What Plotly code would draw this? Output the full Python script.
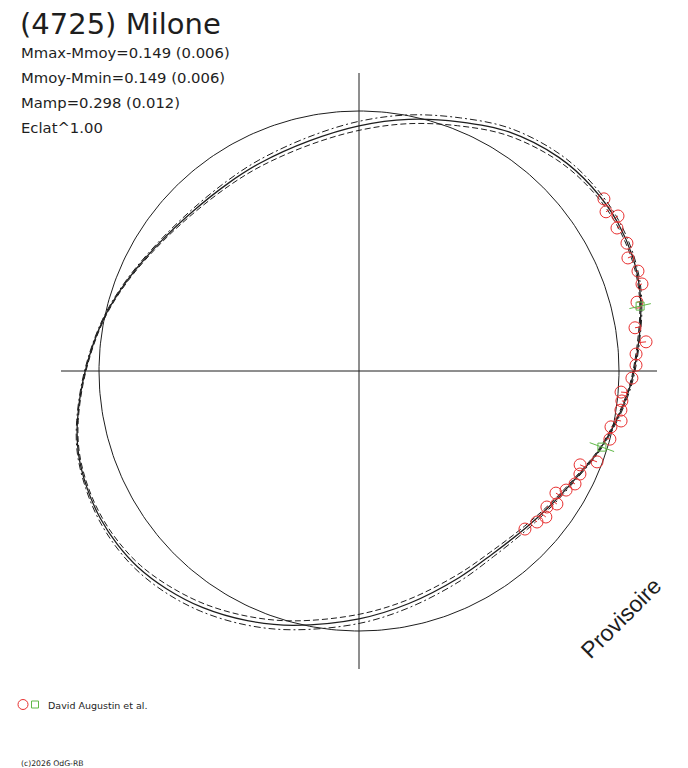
import numpy as np
import plotly.graph_objects as go

W, H = 688, 768
CX, CY, RPX = 359, 371, 260  # pole position and mean-flux radius (pixels)

title = "(4725) Milone"
stats_lines = ["Mmax-Mmoy=0.149 (0.006)", "Mmoy-Mmin=0.149 (0.006)",
               "Mamp=0.298 (0.012)", "Eclat^1.00"]
legend_label = "David Augustin et al."
copyright_text = "(c)2026 OdG-RB"
watermark = "Provisoire"

# model lightcurve: rotational phase (deg, CCW from +x) and magnitude relative to mean
model_phase_deg = [0.0, 12.8, 20.6, 29.7, 38.3, 46.9, 57.9, 68.1, 78.9, 90.0,
                   102.2, 115.4, 125.0, 136.2, 147.3, 158.6, 168.7, 180.0, 190.0, 196.5,
                   203.3, 209.6, 215.6, 221.6, 228.5, 236.6, 245.9, 255.5, 270.0, 282.1,
                   295.8, 306.0, 316.8, 325.4, 333.8, 341.6, 349.0, 354.2]
model_dmag = [-0.061, -0.115, -0.139, -0.149, -0.144, -0.128, -0.089, -0.035, 0.015, 0.064,
              0.108, 0.132, 0.139, 0.131, 0.100, 0.048, -0.004, -0.056, -0.103, -0.128,
              -0.141, -0.147, -0.146, -0.139, -0.121, -0.094, -0.055, -0.011, 0.052, 0.097,
              0.135, 0.150, 0.138, 0.113, 0.078, 0.031, -0.008, -0.035]
model_band = [0.004, 0.004, 0.005, 0.007, 0.009, 0.012, 0.015, 0.017, 0.019, 0.020,
              0.018, 0.015, 0.012, 0.009, 0.006, 0.004, 0.003, 0.003, 0.003, 0.004,
              0.005, 0.007, 0.009, 0.011, 0.014, 0.016, 0.018, 0.019, 0.020, 0.018,
              0.016, 0.013, 0.010, 0.007, 0.005, 0.004, 0.004, 0.004]

# observations (David Augustin et al.)
obs_phase_deg = [35.1, 32.8, 30.9, 29.0, 25.5, 22.8, 19.7, 17.1, 13.9, 8.9,
                 5.8, 3.5, 1.2, 358.5, 355.4, 353.5, 351.5, 349.2, 347.5, 344.8,
                 339.1, 337.0, 335.0, 332.4, 330.1, 328.2, 326.1, 324.1, 322.0, 319.7,
                 316.4]
obs_dmag = [-0.153, -0.133, -0.162, -0.137, -0.144, -0.125, -0.142, -0.141, -0.105, -0.078,
            -0.113, -0.071, -0.069, -0.053, -0.012, -0.019, -0.020, -0.028, 0.008, 0.000,
            0.022, 0.086, 0.070, 0.070, 0.092, 0.125, 0.094, 0.124, 0.100, 0.117,
            0.137]

# aspect markers (green squares) with their tilt
aspect_phase_deg = [13.0, 342.6]
aspect_dmag = [-0.113, 0.023]
aspect_tilt_deg = [13.0, -20.0]
aspect_halflen = [11.0, 13.0]  # px


def polar_xy(phase, dmag):
    r = 10 ** (-0.4 * np.asarray(dmag, float))
    th = np.radians(np.asarray(phase, float))
    return r * np.cos(th), r * np.sin(th)


INK = "#1e1e1e"
RED = "rgb(232,48,48)"
GREEN = "rgb(96,184,72)"

fig = go.Figure()

# cross axes
ax_len = 298 / RPX
fig.add_trace(go.Scatter(x=[-ax_len, ax_len, None, 0, 0], y=[0, 0, None, -ax_len, ax_len],
                         mode="lines", line=dict(color=INK, width=1), hoverinfo="skip"))

# mean-magnitude circle
t = np.linspace(0, 2 * np.pi, 361)
fig.add_trace(go.Scatter(x=np.cos(t), y=np.sin(t), mode="lines",
                         line=dict(color=INK, width=1), hoverinfo="skip"))

# model and its envelope
ph = list(model_phase_deg) + [model_phase_deg[0] + 360]
dm = np.array(list(model_dmag) + [model_dmag[0]])
bd = np.array(list(model_band) + [model_band[0]])
for vals, dash, wid in [(dm - bd, "7px,3px,2px,3px", 1), (dm + bd, "6px,3px", 1), (dm, "solid", 1.3)]:
    x, y = polar_xy(ph, vals)
    fig.add_trace(go.Scatter(x=x, y=y, mode="lines", line=dict(color=INK, width=wid, dash=dash,
                                                                 shape="spline", smoothing=1.0),
                             hoverinfo="skip"))

# residual ticks from observations to model
mod_at_obs = np.interp(obs_phase_deg, model_phase_deg, model_dmag, period=360)
ox, oy = polar_xy(obs_phase_deg, obs_dmag)
mx, my = polar_xy(obs_phase_deg, mod_at_obs)
rx, ry = [], []
for a, b, c, d in zip(ox, oy, mx, my):
    rx += [a, c, None]
    ry += [b, d, None]
fig.add_trace(go.Scatter(x=rx, y=ry, mode="lines", line=dict(color=RED, width=1), hoverinfo="skip"))
fig.add_trace(go.Scatter(x=ox, y=oy, mode="markers",
                         marker=dict(symbol="circle-open", size=12, color=RED, line=dict(width=1)),
                         hoverinfo="skip"))

# aspect markers
gx, gy = polar_xy(aspect_phase_deg, aspect_dmag)
lx, ly = [], []
for a, b, tilt, hl in zip(gx, gy, aspect_tilt_deg, aspect_halflen):
    dx = hl / RPX * np.cos(np.radians(tilt))
    dy = hl / RPX * np.sin(np.radians(tilt))
    lx += [a - dx, a + dx, None]
    ly += [b - dy, b + dy, None]
fig.add_trace(go.Scatter(x=lx, y=ly, mode="lines", line=dict(color=GREEN, width=1), hoverinfo="skip"))
fig.add_trace(go.Scatter(x=gx, y=gy, mode="markers",
                         marker=dict(symbol="square-open", size=8, color=GREEN, line=dict(width=1)),
                         hoverinfo="skip"))


def px(xp):
    return xp / W


def py(yp):
    return 1 - yp / H


FONT = "DejaVu Sans"
ann = []
ann.append(dict(text=title, x=px(18), y=py(24), xanchor="left", yanchor="middle",
                font=dict(family=FONT, size=29, color=INK)))
for i, s in enumerate(stats_lines):
    ann.append(dict(text=s, x=px(19), y=py(52.5 + 25 * i), xanchor="left", yanchor="middle",
                    font=dict(family=FONT, size=14.8, color=INK)))
ann.append(dict(text=legend_label, x=px(46), y=py(705), xanchor="left", yanchor="middle",
                font=dict(family=FONT, size=9.5, color=INK)))
ann.append(dict(text=copyright_text, x=px(19), y=py(763), xanchor="left", yanchor="middle",
                font=dict(family=FONT, size=7.7, color=INK)))
ann.append(dict(text=watermark, x=px(621), y=py(618), xanchor="center", yanchor="middle",
                textangle=-45, font=dict(family="Liberation Sans", size=23, color=INK)))
for a in ann:
    a.update(xref="paper", yref="paper", showarrow=False)

# legend symbols
fig.add_trace(go.Scatter(x=[(23 - CX) / RPX], y=[(CY - 704.5) / RPX], mode="markers",
                         marker=dict(symbol="circle-open", size=10, color=RED, line=dict(width=1)),
                         hoverinfo="skip"))
fig.add_trace(go.Scatter(x=[(35 - CX) / RPX], y=[(CY - 704.5) / RPX], mode="markers",
                         marker=dict(symbol="square-open", size=7, color=GREEN, line=dict(width=1)),
                         hoverinfo="skip"))

fig.update_layout(
    width=W, height=H, margin=dict(l=0, r=0, t=0, b=0),
    paper_bgcolor="white", plot_bgcolor="white", showlegend=False,
    xaxis=dict(range=[-CX / RPX, (W - CX) / RPX], visible=False, fixedrange=True),
    yaxis=dict(range=[-(H - CY) / RPX, CY / RPX], visible=False, fixedrange=True),
    annotations=ann,
)

fig.write_html("out.html", config={"displayModeBar": False},
               post_script="document.body.style.margin='0';document.body.style.overflow='hidden';")
